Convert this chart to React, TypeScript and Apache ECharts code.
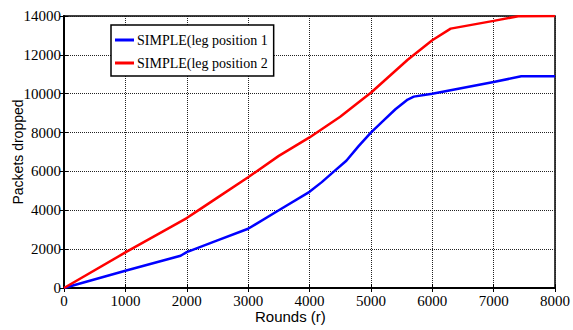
import React, { useEffect, useRef } from "react";
import * as echarts from "echarts";

const xTicks = [0, 1000, 2000, 3000, 4000, 5000, 6000, 7000, 8000];
const blueRounds = [0, 1000, 1900, 2000, 2500, 3000, 3500, 4000, 4200, 4400, 4600, 4800, 5000, 5200, 5400, 5600, 5700, 6000, 7000, 7450, 8000];
const blueDropped = [0, 890, 1660, 1850, 2450, 3050, 4000, 4950, 5450, 6000, 6550, 7300, 8000, 8600, 9200, 9700, 9850, 10000, 10600, 10900, 10900];
const redRounds = [0, 1000, 2000, 2200, 2500, 3000, 3500, 4000, 4500, 4900, 5000, 5600, 6000, 6300, 7000, 7400, 8000];
const redDropped = [0, 1830, 3600, 4020, 4650, 5700, 6800, 7750, 8810, 9810, 10050, 11750, 12750, 13350, 13750, 13990, 14000];
const seriesNames = ["SIMPLE(leg position 1", "SIMPLE(leg position 2"];

export default function App() {
  const ref = useRef<HTMLDivElement>(null);
  useEffect(() => {
    if (!ref.current) return;
    const chart = echarts.init(ref.current, null, { renderer: "svg" });
    const serif = "Liberation Serif";
    const sans = "Liberation Sans";
    const grid = { left: 64, right: 14, top: 16, bottom: 42 };
    const fmt = (v: number) => `{s|${v}}`;
    const rich = { s: { fontFamily: serif, fontSize: 15, color: "#000" } };
    const labelStyle = { fontFamily: serif, fontSize: 15, color: "#000", rich };
    chart.setOption({
      animation: false,
      backgroundColor: "#ffffff",
      textStyle: { fontFamily: serif },
      grid: { ...grid, show: true, borderColor: "#000", borderWidth: 1.5, backgroundColor: "transparent" },
      legend: {
        left: 111,
        top: 25,
        orient: "vertical",
        itemGap: 7,
        itemWidth: 19,
        itemHeight: 3,
        padding: [7, 6, 5, 4],
        borderColor: "#000",
        borderWidth: 1.5,
        backgroundColor: "#fff",
        icon: "rect",
        textStyle: { fontFamily: serif, fontSize: 14, lineHeight: 16, color: "#000", padding: [0, 0, 0, -2] },
        data: seriesNames,
      },
      xAxis: [
        {
          type: "value",
          min: 0,
          max: 8000,
          interval: 1000,
          axisLine: { show: true, lineStyle: { color: "#000", width: 2 } },
          axisTick: { show: true, inside: true, length: 4, lineStyle: { color: "#000" } },
          axisLabel: { ...labelStyle, margin: 5, formatter: fmt },
          splitLine: { show: true, lineStyle: { color: "#222", type: [1, 1], width: 1 } },
        },
        {
          type: "value",
          position: "top",
          min: 0,
          max: 8000,
          interval: 1000,
          axisLine: { show: true, lineStyle: { color: "#000", width: 1.5 } },
          axisTick: { show: true, inside: true, length: 4, lineStyle: { color: "#000" } },
          axisLabel: { show: false },
          splitLine: { show: false },
        },
      ],
      yAxis: [
        {
          type: "value",
          min: 0,
          max: 14000,
          interval: 2000,
          axisLine: { show: true, lineStyle: { color: "#000", width: 2 } },
          axisTick: { show: true, inside: true, length: 4, lineStyle: { color: "#000" } },
          axisLabel: { ...labelStyle, margin: 3, formatter: fmt },
          splitLine: { show: true, lineStyle: { color: "#222", type: [1, 1], width: 1 } },
        },
        {
          type: "value",
          position: "right",
          min: 0,
          max: 14000,
          interval: 2000,
          axisLine: { show: true, lineStyle: { color: "#000", width: 1.5 } },
          axisTick: { show: true, inside: true, length: 4, lineStyle: { color: "#000" } },
          axisLabel: { show: false },
          splitLine: { show: false },
        },
      ],
      graphic: [
        {
          type: "text",
          left: 255,
          top: 309,
          style: { text: "Rounds (r)", fontFamily: sans, fontSize: 15, fill: "#000" },
        },
        {
          type: "text",
          x: 11,
          y: 152,
          rotation: Math.PI / 2,
          style: { text: "Packets dropped", fontFamily: sans, fontSize: 14, fill: "#000", align: "center", verticalAlign: "top" },
        },
      ],
      series: [
        {
          name: seriesNames[0],
          type: "line",
          showSymbol: false,
          symbol: "none",
          data: blueRounds.map((r, i) => [r, blueDropped[i]]),
          lineStyle: { color: "#0000ff", width: 2.5 },
          itemStyle: { color: "#0000ff" },
        },
        {
          name: seriesNames[1],
          type: "line",
          showSymbol: false,
          symbol: "none",
          data: redRounds.map((r, i) => [r, redDropped[i]]),
          lineStyle: { color: "#ff0000", width: 2.5 },
          itemStyle: { color: "#ff0000" },
        },
      ],
    });
    return () => chart.dispose();
  }, []);
  return <div ref={ref} style={{ width: 573, height: 330, position: "absolute", left: 0, top: 0 }} />;
}
